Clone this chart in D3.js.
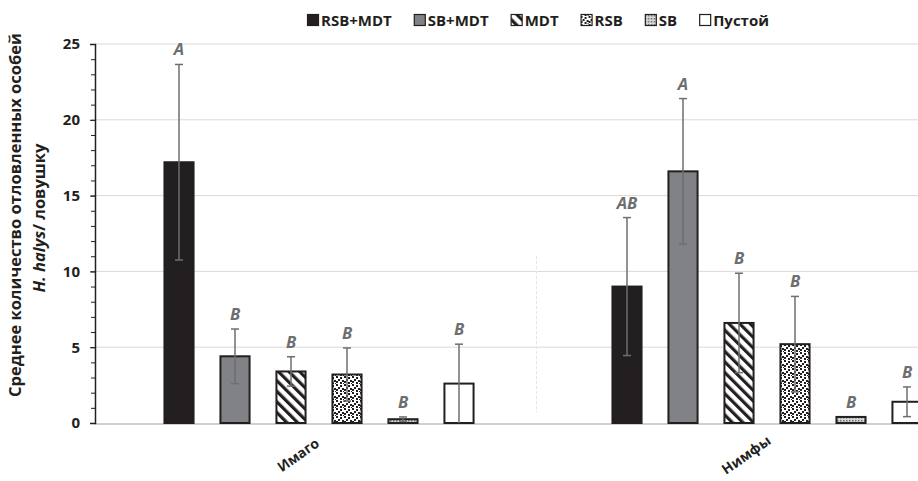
<!DOCTYPE html>
<html>
<head>
<meta charset="utf-8">
<script src="https://cdn.jsdelivr.net/npm/d3@7"></script>
<style>
  body { margin: 0; background: #fff; }
  text { font-family: "Open Sans", "Noto Sans", sans-serif; }
</style>
</head>
<body>
<script>
// categories and series
const groups = ["Имаго", "Нимфы"];
const series = ["RSB+MDT", "SB+MDT", "MDT", "RSB", "SB", "Пустой"];

// mean values and error (+/-) per series
const imagoMeans = [17.2, 4.4, 3.4, 3.2, 0.25, 2.6];
const imagoErr = [6.45, 1.8, 0.97, 1.75, 0.15, 2.6];
const imagoLetters = ["A", "B", "B", "B", "B", "B"];

const nymphMeans = [9.0, 16.6, 6.6, 5.2, 0.4, 1.4];
const nymphErr = [4.55, 4.8, 3.28, 3.15, 0, 0.98];
const nymphLetters = ["AB", "A", "B", "B", "B", "B"];

const yTicks = [0, 5, 10, 15, 20, 25];

var rows = [];
groups.forEach(function(g, gi) {
  var m = gi == 0 ? imagoMeans : nymphMeans;
  var e = gi == 0 ? imagoErr : nymphErr;
  var l = gi == 0 ? imagoLetters : nymphLetters;
  series.forEach(function(s, i) {
    rows.push({group: g, series: s, value: m[i], err: e[i], letter: l[i]});
  });
});

var W = 918, H = 481;
var plotLeft = 95, plotTop = 44, plotBottom = 423;

var svg = d3.select("body").append("svg")
  .attr("width", W)
  .attr("height", H);

// patterns
var defs = svg.append("defs");
var stripes = defs.append("pattern")
  .attr("id", "stripes")
  .attr("patternUnits", "userSpaceOnUse")
  .attr("width", 7.5).attr("height", 7.5)
  .attr("patternTransform", "rotate(-45)");
stripes.append("rect").attr("width", 7.5).attr("height", 7.5).attr("fill", "#fff");
stripes.append("rect").attr("width", 3.2).attr("height", 7.5).attr("fill", "#231f20");

var dots = defs.append("pattern")
  .attr("id", "dots")
  .attr("patternUnits", "userSpaceOnUse")
  .attr("width", 8).attr("height", 8);
dots.append("rect").attr("width", 8).attr("height", 8).attr("fill", "#fff");
[[0, 0], [4, 1], [2, 3], [6, 4], [0, 5], [4, 6], [7, 7]].forEach(function(p) {
  dots.append("rect").attr("x", p[0]).attr("y", p[1]).attr("width", 2).attr("height", 2).attr("fill", "#231f20");
});

var fine = defs.append("pattern")
  .attr("id", "fine")
  .attr("patternUnits", "userSpaceOnUse")
  .attr("width", 3).attr("height", 3);
fine.append("rect").attr("width", 3).attr("height", 3).attr("fill", "#d8d8d8");
fine.append("rect").attr("width", 1.5).attr("height", 1.5).attr("fill", "#6d6e71");

var fills = {
  "RSB+MDT": "#231f20",
  "SB+MDT": "#808285",
  "MDT": "url(#stripes)",
  "RSB": "url(#dots)",
  "SB": "url(#fine)",
  "Пустой": "#fff"
};

// scales
var y = d3.scaleLinear().domain([0, 25]).range([plotBottom, plotTop]);
var x0 = d3.scaleBand().domain(groups).range([plotLeft, plotLeft + 896]);
var x1 = d3.scaleBand().domain(series).range([0, x0.bandwidth()])
  .paddingInner(0.48).paddingOuter(1.24);

// gridlines
svg.append("g")
  .selectAll("line")
  .data(yTicks.filter(function(d) { return d > 0; }))
  .join("line")
  .attr("x1", plotLeft).attr("x2", W)
  .attr("y1", function(d) { return y(d); })
  .attr("y2", function(d) { return y(d); })
  .attr("stroke", "#d9d9d9")
  .attr("stroke-width", 1);

// faint separator between groups
svg.append("line")
  .attr("x1", 536.5).attr("x2", 536.5)
  .attr("y1", y(11)).attr("y2", y(0.7))
  .attr("stroke", "#e4e4e4")
  .attr("stroke-dasharray", "3,2");

// baseline
svg.append("line")
  .attr("x1", plotLeft).attr("x2", W)
  .attr("y1", y(0) + 1).attr("y2", y(0) + 1)
  .attr("stroke", "#d0d0d0")
  .attr("stroke-width", 2);

// bars
svg.append("g")
  .selectAll("rect")
  .data(rows)
  .join("rect")
  .attr("x", function(d) { return x0(d.group) + x1(d.series); })
  .attr("y", function(d) { return y(d.value); })
  .attr("width", x1.bandwidth())
  .attr("height", function(d) { return y(0) - y(d.value); })
  .attr("fill", function(d) { return fills[d.series]; })
  .attr("stroke", "#231f20")
  .attr("stroke-width", 2);

// error bars
var eb = svg.append("g")
  .attr("stroke", "#6d6e71")
  .attr("stroke-width", 1.5);

rows.filter(function(d) { return d.err > 0; }).forEach(function(d) {
  var cx = x0(d.group) + x1(d.series) + x1.bandwidth() / 2;
  var hi = y(d.value + d.err), lo = y(Math.max(0, d.value - d.err));
  eb.append("line").attr("x1", cx).attr("x2", cx).attr("y1", hi).attr("y2", lo);
  eb.append("line").attr("x1", cx - 4).attr("x2", cx + 4).attr("y1", hi).attr("y2", hi);
  if (d.value - d.err > 0.05) {
    eb.append("line").attr("x1", cx - 4).attr("x2", cx + 4).attr("y1", lo).attr("y2", lo);
  }
});

// letters
svg.append("g")
  .selectAll("text")
  .data(rows)
  .join("text")
  .attr("x", function(d) { return x0(d.group) + x1(d.series) + x1.bandwidth() / 2; })
  .attr("y", function(d) { return y(d.value + d.err) - 9; })
  .attr("text-anchor", "middle")
  .attr("font-size", 16.5)
  .attr("font-weight", "bold")
  .attr("font-style", "italic")
  .attr("fill", "#6d6e71")
  .text(function(d) { return d.letter; });

// y axis
var yAxis = svg.append("g")
  .attr("transform", "translate(" + plotLeft + ",0)")
  .call(d3.axisLeft(y).tickValues(yTicks).tickSize(5).tickPadding(10));
yAxis.select(".domain").attr("stroke", "#231f20").attr("stroke-width", 1.5);
yAxis.selectAll(".tick line").attr("stroke", "#231f20");
yAxis.selectAll(".tick text")
  .attr("font-size", 15)
  .attr("font-weight", "bold")
  .attr("fill", "#231f20")
  .style("font-family", "'Open Sans', sans-serif");

svg.append("g")
  .attr("transform", "translate(" + plotLeft + ",0)")
  .call(d3.axisLeft(y).ticks(25).tickSize(4).tickFormat(""))
  .call(function(g) { g.select(".domain").remove(); })
  .selectAll(".tick line").attr("stroke", "#231f20");

// y axis title
svg.append("text")
  .attr("transform", "translate(21,215) rotate(-90)")
  .attr("text-anchor", "middle")
  .attr("font-size", 16.5)
  .attr("font-weight", "bold")
  .attr("fill", "#231f20")
  .text("Среднее количество отловленных особей");

var t2 = svg.append("text")
  .attr("transform", "translate(45,218) rotate(-90)")
  .attr("text-anchor", "middle")
  .attr("font-size", 16.5)
  .attr("font-weight", "bold")
  .attr("fill", "#231f20");
t2.append("tspan").attr("font-style", "italic").text("H. halys");
t2.append("tspan").text("/ ловушку");

// category labels
svg.append("g")
  .selectAll("text")
  .data(groups)
  .join("text")
  .attr("transform", function(g) {
    return "translate(" + (x0(g) + x0.bandwidth() / 2 - 18) + ",459) rotate(-35)";
  })
  .attr("text-anchor", "middle")
  .attr("font-size", 14)
  .attr("font-weight", "bold")
  .attr("fill", "#231f20")
  .text(function(g) { return g; });

// legend
var legend = svg.append("g");
var lx = 0;
series.forEach(function(s) {
  var item = legend.append("g").attr("transform", "translate(" + lx + ",0)");
  item.append("rect")
    .attr("x", 0.5).attr("y", 14.5)
    .attr("width", 11).attr("height", 11)
    .attr("fill", fills[s])
    .attr("stroke", "#231f20")
    .attr("stroke-width", 1.2);
  var t = item.append("text")
    .attr("x", 14).attr("y", 25.5)
    .attr("font-size", 15)
    .attr("font-weight", "bold")
    .attr("fill", "#231f20")
    .text(s);
  lx += 14 + t.node().getComputedTextLength() + 22;
});
var lw = lx - 22;
legend.attr("transform", "translate(" + (538 - lw / 2) + ",0)");
</script>
</body>
</html>
